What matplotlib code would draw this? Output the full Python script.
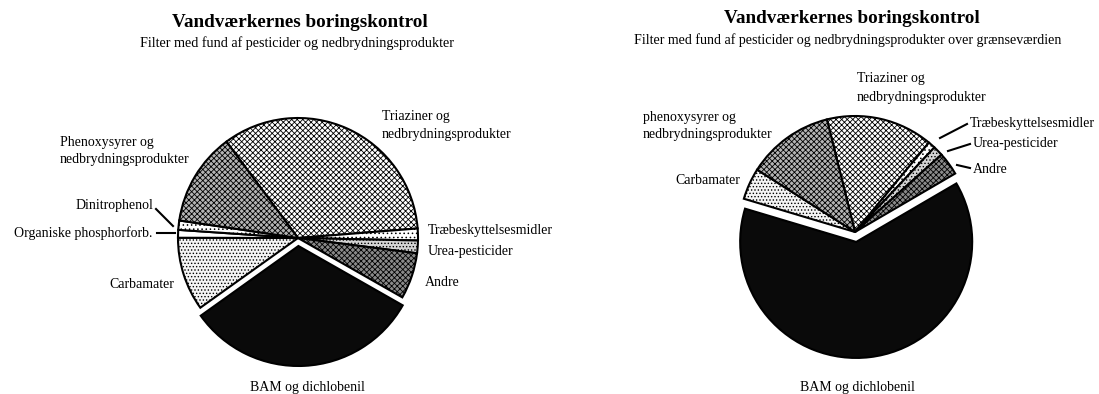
import matplotlib
matplotlib.use("Agg")
import matplotlib.pyplot as plt

plt.rcParams['font.family'] = ['Liberation Serif', 'DejaVu Serif']
plt.rcParams['hatch.linewidth'] = 0.6

# ---------------- data ----------------
left_title = "Vandværkernes boringskontrol"
left_subtitle = "Filter med fund af pesticider og nedbrydningsprodukter"
left_categories = ["Triaziner og nedbrydningsprodukter", "Træbeskyttelsesmidler",
                   "Urea-pesticider", "Andre", "BAM og dichlobenil", "Carbamater",
                   "Organiske phosphorforb.", "Dinitrophenol",
                   "Phenoxysyrer og nedbrydningsprodukter"]
left_values = [33.9, 1.6, 1.7, 6.2, 31.9, 9.9, 1.05, 1.25, 12.5]

right_title = "Vandværkernes boringskontrol"
right_subtitle = "Filter med fund af pesticider og nedbrydningsprodukter over grænseværdien"
right_categories = ["Triaziner og nedbrydningsprodukter", "Træbeskyttelsesmidler",
                    "Urea-pesticider", "Andre", "BAM og dichlobenil", "Carbamater",
                    "phenoxysyrer og nedbrydningsprodukter"]
right_values = [14.9, 1.0, 1.4, 3.2, 63.1, 4.4, 12.1]

# styles per category: (facecolor, hatch)
styles = {
    "Triaziner og nedbrydningsprodukter": ("#ffffff", "xxxxxx"),
    "Træbeskyttelsesmidler": ("#ffffff", "...."),
    "Urea-pesticider": ("#d4d4d4", "....."),
    "Andre": ("#8a8a8a", "xxxxxx"),
    "BAM og dichlobenil": ("#0a0a0a", None),
    "Carbamater": ("#f4f4f4", "....."),
    "Organiske phosphorforb.": ("#ffffff", None),
    "Dinitrophenol": ("#ffffff", "...."),
    "Phenoxysyrer og nedbrydningsprodukter": ("#b4b4b4", "xxxxxx"),
    "phenoxysyrer og nedbrydningsprodukter": ("#b4b4b4", "xxxxxx"),
}

W, H = 1099, 394
fig = plt.figure(figsize=(W / 100, H / 100), dpi=100)
ax = fig.add_axes([0, 0, 1, 1])


def Y(y):
    return H - y


def draw_pie(values, cats, center, radius, start, explode_px):
    explode = [explode_px if c.startswith("BAM") else 0 for c in cats]
    wedges, _ = ax.pie(values, center=center, radius=radius, startangle=start,
                       counterclock=False, explode=explode, frame=True,
                       wedgeprops=dict(edgecolor="black", linewidth=1.5))
    for w, c in zip(wedges, cats):
        fc, h = styles[c]
        w.set_facecolor(fc)
        if h:
            w.set_hatch(h)


draw_pie(left_values, left_categories, (298, Y(238)), 120, 126.6, 8)
draw_pie(right_values, right_categories, (855, Y(232)), 116, 104, 10)

ax.set_xlim(0, W)
ax.set_ylim(0, H)
ax.axis("off")

# titles
ax.text(300, Y(22), left_title, ha="center", va="center", fontsize=13.8, fontweight="bold")
ax.text(297, Y(43), left_subtitle, ha="center", va="center", fontsize=10.2)
ax.text(852, Y(18), right_title, ha="center", va="center", fontsize=13.8, fontweight="bold")
ax.text(848, Y(40), right_subtitle, ha="center", va="center", fontsize=10.1)

fs = 10
# left labels
ax.text(382, Y(116), "Triaziner og", ha="left", va="center", fontsize=fs)
ax.text(382, Y(134), "nedbrydningsprodukter", ha="left", va="center", fontsize=fs)
ax.text(60, Y(142), "Phenoxysyrer og", ha="left", va="center", fontsize=fs)
ax.text(60, Y(159), "nedbrydningsprodukter", ha="left", va="center", fontsize=fs)
ax.text(153, Y(205), "Dinitrophenol", ha="right", va="center", fontsize=fs)
ax.plot([156, 173], [Y(209), Y(226)], color="black", lw=1.5)
ax.text(152, Y(233), "Organiske phosphorforb.", ha="right", va="center", fontsize=fs)
ax.plot([157, 175], [Y(233), Y(233)], color="black", lw=1.5)
ax.text(174, Y(285), "Carbamater", ha="right", va="center", fontsize=fs)
ax.text(428, Y(230), "Træbeskyttelsesmidler", ha="left", va="center", fontsize=fs)
ax.text(428, Y(252), "Urea-pesticider", ha="left", va="center", fontsize=fs)
ax.text(425, Y(283), "Andre", ha="left", va="center", fontsize=fs)
ax.text(307, Y(388), "BAM og dichlobenil", ha="center", va="center", fontsize=fs)

# right labels
ax.text(857, Y(78), "Triaziner og", ha="left", va="center", fontsize=fs)
ax.text(857, Y(97), "nedbrydningsprodukter", ha="left", va="center", fontsize=fs)
ax.text(643, Y(117), "phenoxysyrer og", ha="left", va="center", fontsize=fs)
ax.text(643, Y(134), "nedbrydningsprodukter", ha="left", va="center", fontsize=fs)
ax.text(740, Y(180), "Carbamater", ha="right", va="center", fontsize=fs)
ax.text(970, Y(123), "Træbeskyttelsesmidler", ha="left", va="center", fontsize=fs)
ax.plot([940, 967], [Y(138), Y(124)], color="black", lw=1.5)
ax.text(973, Y(143), "Urea-pesticider", ha="left", va="center", fontsize=fs)
ax.plot([948, 970], [Y(151), Y(144)], color="black", lw=1.5)
ax.text(973, Y(169), "Andre", ha="left", va="center", fontsize=fs)
ax.plot([957, 970], [Y(165), Y(168)], color="black", lw=1.5)
ax.text(857, Y(387), "BAM og dichlobenil", ha="center", va="center", fontsize=fs)

fig.savefig("out.png", dpi=100)
